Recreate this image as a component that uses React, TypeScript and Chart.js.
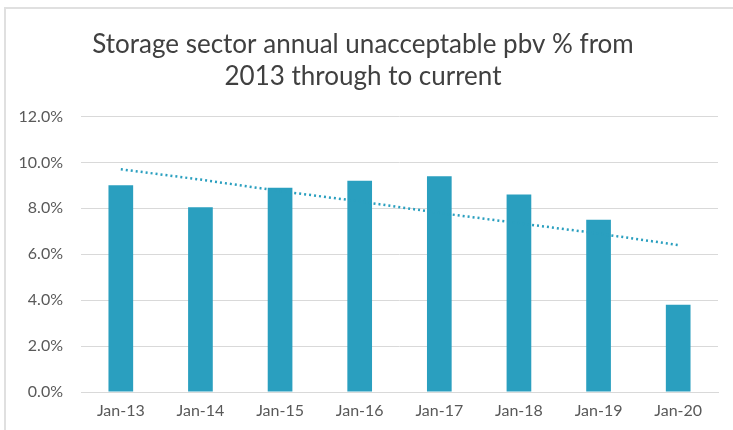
import React, { useEffect, useRef } from "react";
import { Chart, registerables } from "chart.js";

Chart.register(...registerables);

const categories = ["Jan-13", "Jan-14", "Jan-15", "Jan-16", "Jan-17", "Jan-18", "Jan-19", "Jan-20"];
const pbvValues = [9.0, 8.05, 8.9, 9.2, 9.4, 8.6, 7.5, 3.8];
const trendValues = [9.7, 9.25, 8.75, 8.3, 7.8, 7.35, 6.9, 6.4];
const yTicks = [0, 2, 4, 6, 8, 10, 12];
const titleLines = ["Storage sector annual unacceptable pbv % from", "2013 through to current"];

const BAR = "#2a9fbf";
const FONT = "Lato, 'Open Sans', sans-serif";

export default function App() {
  const ref = useRef<HTMLCanvasElement | null>(null);

  useEffect(() => {
    if (!ref.current) return;
    const chart = new Chart(ref.current, {
      type: "bar",
      data: {
        labels: categories,
        datasets: [
          {
            type: "line",
            label: "Trend",
            data: trendValues,
            borderColor: BAR,
            borderWidth: 2.5,
            borderDash: [2, 3],
            pointRadius: 0,
            fill: false,
            tension: 0,
            order: 0,
          },
          {
            type: "bar",
            label: "pbv %",
            data: pbvValues,
            backgroundColor: BAR,
            barPercentage: 0.62,
            categoryPercentage: 0.5,
            order: 1,
          },
        ],
      },
      options: {
        responsive: false,
        animation: false,
        layout: { padding: { left: 8, right: 15, top: 29, bottom: 7 } },
        plugins: {
          legend: { display: false },
          tooltip: { enabled: false },
          title: {
            display: true,
            text: titleLines,
            color: "#404040",
            font: { family: FONT, size: 26, weight: "normal", lineHeight: 1.22 },
            padding: { top: 0, bottom: 24 },
          },
        },
        scales: {
          x: {
            grid: { display: false, drawTicks: false },
            border: { display: true, color: "#d9d9d9", width: 1 },
            ticks: { color: "#595959", font: { family: FONT, size: 16 }, padding: 9, maxRotation: 0 },
            afterFit: (s: any) => {
              s.height = 31;
            },
          },
          y: {
            min: 0,
            max: 12,
            afterBuildTicks: (s: any) => {
              s.ticks = yTicks.map((v) => ({ value: v }));
            },
            grid: { color: "#d9d9d9", drawTicks: false },
            border: { display: false },
            ticks: {
              color: "#595959",
              font: { family: FONT, size: 16 },
              padding: 18,
              callback: (v: any) => Number(v).toFixed(1) + "%",
            },
            afterFit: (s: any) => {
              s.width = 73;
            },
          },
        },
      },
    });
    return () => chart.destroy();
  }, []);

  return (
    <div style={{ position: "absolute", left: 0, top: 0, width: 733, height: 430, background: "#fff" }}>
      <div
        style={{
          position: "absolute",
          left: 4,
          top: 7,
          width: 729,
          height: 423,
          borderLeft: "2px solid #e0e0e0",
          borderTop: "2px solid #e0e0e0",
          boxSizing: "border-box",
        }}
      />
      <canvas ref={ref} width={733} height={430} style={{ position: "absolute", left: 0, top: 0 }} />
    </div>
  );
}
